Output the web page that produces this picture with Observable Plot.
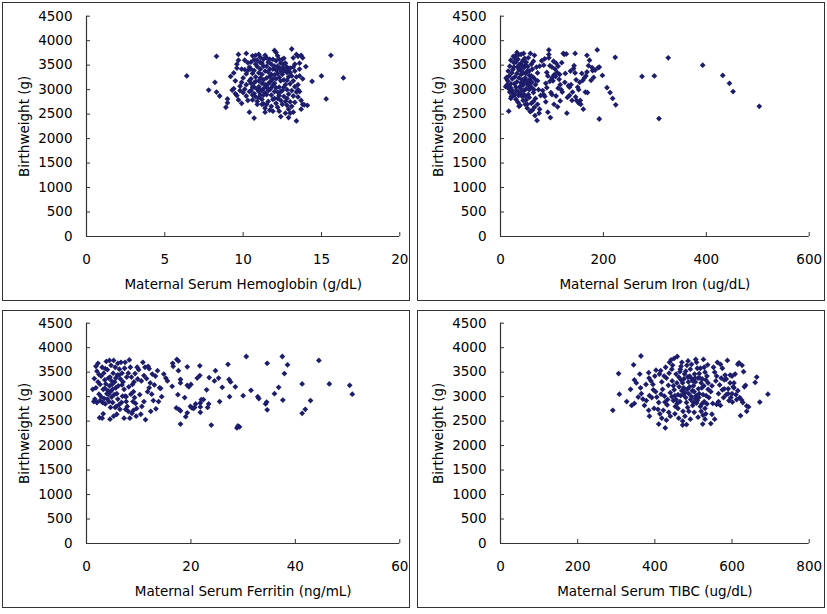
<!DOCTYPE html>
<html><head><meta charset="utf-8">
<script src="https://cdn.jsdelivr.net/npm/d3@7"></script>
<script src="https://cdn.jsdelivr.net/npm/@observablehq/plot@0.6"></script>
<style>
body{margin:0;background:#fff;}
#wrap{position:relative;width:827px;height:614px;background:#fff;overflow:hidden;}
.box{position:absolute;border:1px solid #333;box-sizing:border-box;pointer-events:none;}
.pl{position:absolute;}
</style></head><body><div id="wrap"></div>
<script>
const yTicks = [0,500,1000,1500,2000,2500,3000,3500,4000,4500];
const hbTicks = [0,5,10,15,20];
const ironTicks = [0,200,400,600];
const ferritinTicks = [0,20,40,60];
const tibcTicks = [0,200,400,600,800];
const yLabel = "Birthweight (g)";
const hbLabel = "Maternal Serum Hemoglobin (g/dL)";
const ironLabel = "Maternal Serum Iron (ug/dL)";
const ferritinLabel = "Maternal Serum Ferritin (ng/mL)";
const tibcLabel = "Maternal Serum TIBC (ug/dL)";

// [hemoglobin g/dL, birthweight g]
const hemoglobin = [
[6.4,3280],[7.8,2990],[8.2,3150],[8.3,3680],[8.3,2950],[8.5,2870],[8.9,2640],[9.0,2730],[9.0,2810],[14.4,3170],[15.0,3280],[15.3,2810],[15.6,3700],[16.4,3240],[14.1,2680],[14.0,3470],[13.4,2360],[10.7,2420],[10.4,2540],
[9.2,3270],[9.4,3340],[9.6,3520],[9.7,3600],[9.7,3720],[9.5,3180],[9.3,2990],[9.4,3020],[9.6,2880],[9.7,2790],[9.9,2720],[9.5,2920],[9.8,3070],[9.9,3150],[9.9,3420],[9.6,3440],[9.8,2980],
[10.1,3410],[10.2,3740],[10.0,3240],[10.3,3390],[10.1,3010],[10.2,2870],[10.4,3180],[10.3,3550],[10.0,2940],[10.4,3460],[10.2,3100],[10.3,2780],[10.1,3600],[10.4,2960],[10.2,3320],
[10.5,3420],[10.6,3690],[10.7,3610],[10.8,3520],[10.5,3220],[10.6,3050],[10.7,2920],[10.8,2850],[10.5,2980],[10.6,3330],[10.9,3470],[10.7,3140],[10.8,3260],[10.9,3010],[10.5,3130],[10.6,2790],[10.9,2760],[10.7,3390],[10.8,3700],[10.9,3600],[10.6,2890],[10.7,3050],[10.5,3560],[10.8,3170],[10.9,2700],
[11.0,3720],[11.1,3660],[11.2,3540],[11.3,3480],[11.0,3340],[11.1,3240],[11.2,3130],[11.3,3020],[11.4,2930],[11.0,3060],[11.1,2890],[11.2,2800],[11.3,2710],[11.4,2620],[11.0,2960],[11.1,3420],[11.2,3310],[11.3,3200],[11.4,3380],[11.0,3180],[11.2,2980],[11.4,3100],[11.3,3620],[11.1,3550],[11.4,3700],[11.2,2700],[11.0,2840],[11.3,2890],[11.4,2540],[11.1,3000],
[11.5,3650],[11.6,3560],[11.7,3420],[11.8,3310],[11.9,3220],[11.5,3240],[11.6,3120],[11.7,3000],[11.8,2890],[11.9,2800],[11.5,2900],[11.6,2760],[11.7,2580],[11.8,2660],[11.9,3090],[11.5,3480],[11.6,3360],[11.7,3270],[11.8,3520],[11.9,3420],[11.5,3050],[11.7,3150],[11.9,2560],[11.6,2980],[11.8,3190],[11.7,3620],[11.9,3620],[11.5,2700],[11.8,3040],
[12.0,3800],[12.1,3760],[12.2,3690],[12.3,3620],[12.4,3540],[12.0,3480],[12.1,3400],[12.2,3330],[12.3,3250],[12.4,3180],[12.0,3130],[12.1,3040],[12.2,2950],[12.3,2880],[12.4,2780],[12.0,2820],[12.1,2720],[12.2,2640],[12.3,2560],[12.4,2450],[12.0,3300],[12.2,3480],[12.4,3380],[12.1,3220],[12.3,3050],[12.0,2960],[12.2,2820],[12.4,2960],[12.1,3590],[12.3,3440],
[12.5,3620],[12.6,3520],[12.7,3430],[12.8,3350],[12.9,3260],[12.5,3310],[12.6,3200],[12.7,3100],[12.8,3000],[12.9,2910],[12.5,2980],[12.6,2860],[12.7,2760],[12.8,2680],[12.9,2600],[12.5,3450],[12.6,3380],[12.7,3540],[12.8,3460],[12.9,3400],[12.6,3640],[12.8,3190],[12.5,2700],[12.7,2520],[12.9,2430],[12.6,3050],[12.8,2820],
[13.0,3350],[13.1,3830],[13.2,3650],[13.3,3520],[13.0,3440],[13.1,3280],[13.2,3180],[13.3,3060],[13.0,3120],[13.1,2980],[13.2,2870],[13.3,2740],[13.0,2750],[13.1,2660],[13.2,2540],[13.4,3260],[13.4,2950],[13.0,2520],[13.3,3380],[13.2,3460],[13.4,3720],
[13.5,3680],[13.6,3540],[13.7,3700],[13.8,3650],[13.5,3100],[13.6,2960],[13.7,2780],[13.5,2850],[13.6,3280],[13.8,2700],[13.9,2690],[13.7,2600],[13.5,3000],[13.6,3420],[13.8,3220]
];

// [iron ug/dL, birthweight g]
const iron = [
[12,3250],[14,3180],[10,3060],[16,3020],[18,2950],[20,3120],[22,3340],[24,3410],[26,3550],[28,3640],[30,3700],[32,3760],[34,3620],[36,3500],[38,3420],[40,3310],[42,3200],[44,3090],[46,2980],[48,2870],[50,2790],[52,2700],[54,2900],[56,3000],[58,3150],[60,3280],[62,3420],[64,3580],[66,3700],[25,3680],[20,3600],[18,3480],[15,3380],[22,3000],[26,2880],[30,2800],[34,2740],[38,2680],[42,2860],[46,3450],[50,3560],[54,3650],[58,3740],[45,3740],[40,3720],[35,3710],[28,3260],[32,3330],[36,3240],[40,3140],[44,3340],[48,3240],[52,3120],[56,3380],[60,3050],[64,2940],[68,2820],[72,2700],[76,2600],[30,3050],[34,2960],[38,3060],[42,2990],[46,3150],[50,3020],[24,2940],[28,2900],[32,3160],[36,3400],[40,3540],[44,3600],[48,3500],[52,3380],[56,3290],[60,3520],[64,3250],[68,3100],[72,3340],[76,3480],[80,3590],[70,3460],[74,3000],[78,2880],[66,2640],[62,2580],[58,2560],[20,2820],[16,2560],[36,2660],[58,2550],[71,2370],[75,2520],[67,2470],[26,3460],[30,3560],[44,2780],[48,2700],[52,2620],[56,2840],[60,2720],[64,2760],[68,3200],[72,3180],[33,3460],[37,3050],[41,3380],[45,2900],[49,3330],[53,3470],[57,3210],[61,3150],[65,3000],[23,3220],[27,3120],[31,2980],[35,2880],[39,2920],[43,3480],[47,3640],[51,3180],[55,3080],[11,3230],[13,3100],[17,3280],[19,3050],[21,2860],
[82,2980],[84,2900],[86,2860],[88,3130],[90,3040],[92,2540],[94,3810],[94,3720],[94,3650],[96,3490],[97,2430],[98,2940],[100,3240],[102,3180],[104,3300],[106,3420],[108,3540],[110,3350],[112,3480],[114,3210],[116,3100],[118,3000],[120,2950],[122,3740],[124,3720],[126,3330],[128,3730],[129,2520],[130,2840],[132,3080],[134,3050],[134,2880],[137,3100],[140,2950],[142,3430],[143,3490],[145,3340],[145,3740],[147,3200],[148,2780],[150,3050],[151,2740],[153,2720],[154,3150],[155,2780],[156,2700],[158,3330],[160,3190],[161,2600],[163,3240],[165,2950],[166,3280],[168,3700],[168,3360],[169,2940],[171,3490],[173,3600],[176,3190],[178,3450],[179,3390],[181,3250],[184,3400],[188,3810],[190,3450],[192,3460],[192,2400],[198,3290],[86,3630],[90,3350],[100,2900],[104,2700],[108,2870],[112,3030],[116,2770],[103,3580],[107,3270],[111,2650],[115,3310],[119,3550],[96,3170],[92,3280],[88,2750],[84,3500],[100,3460],[125,3150],[136,3380],[139,2780],[146,2850],[152,3000],
[207,3040],[213,2940],[218,2820],[224,2690],[223,3660],[275,3270],[299,3280],[308,2410],[326,3650],[393,3500],[432,3290],[445,3130],[452,2960],[503,2660]
];

// [ferritin ng/mL, birthweight g]
const ferritin = [
[1.5,3370],[1.8,3180],[2.0,3520],[2.2,3680],[2.4,3050],[1.6,2950],[2.0,2880],[2.6,3250],[2.8,3420],[3.0,3600],[3.2,3150],[3.4,2960],[3.6,2850],[3.0,2560],[3.8,3720],[4.0,3550],[4.2,3380],[4.4,3220],[4.6,3100],[4.8,2990],[5.0,2880],[3.5,3340],[3.9,3060],[4.3,2900],[4.7,3640],[5.1,3480],[5.4,3300],[5.6,3180],[5.8,3060],[6.0,2950],[6.2,2830],[6.4,2740],[5.2,3740],[5.5,3600],[5.9,3440],[6.3,3560],[6.6,3700],[6.8,3480],[7.0,3300],[7.2,3150],[7.4,3010],[7.6,2900],[7.8,2800],[8.0,2700],[8.2,3750],[8.4,3600],[8.6,3400],[8.8,3250],[9.0,3100],[9.2,2980],[9.4,2860],[9.6,2760],[9.8,3360],[10.0,3550],[2.4,3450],[2.8,3000],[3.3,3480],[3.7,3260],[4.1,3120],[4.5,3400],[4.9,3250],[5.3,3040],[5.7,2800],[6.1,3220],[6.5,3360],[6.9,3010],[7.3,3580],[7.7,3400],[8.1,3200],[8.5,3050],[8.9,2900],[9.3,3470],[9.7,3600],[1.2,3150],[1.4,2900],[2.2,3300],[2.6,2920],[3.1,2880],[4.0,2950],[4.6,2780],[5.5,2780],[6.7,2880],[7.5,2740],[8.3,2560],[3.5,3170],[4.2,3050],[4.8,3320],[5.0,3150],[5.6,3380],[6.2,3440],[6.8,3240],[7.6,3000],[8.7,2660],[9.5,2600],[1.8,3620],[6.0,3680],[7.4,3700],[8.0,3480],[9.1,3300],[2.5,2570],[3.2,2650],[4.5,2540],[5.2,2600],[7.2,2560],[9.0,2720],[3.6,3570],[4.4,3740],[5.8,2640],
[10.2,3040],[10.5,3320],[10.8,3700],[11.0,3430],[11.3,2530],[11.5,3370],[11.8,3620],[12.0,3570],[12.2,3280],[12.5,3050],[12.8,2920],[13.0,3240],[13.3,2750],[13.6,3530],[14.0,3180],[14.4,3000],[14.8,3460],[15.2,3380],[11.0,2900],[11.7,3100],[12.3,2700],[12.6,3460],[13.8,2900],[10.6,2800],[11.2,3600],[12.0,3180],[13.2,3420],[14.2,3170],[15.5,3320],[10.4,2640],
[16.4,3210],[16.5,3680],[16.6,3620],[17.2,2770],[17.3,3760],[17.5,3040],[17.6,3730],[17.6,3530],[17.7,2740],[18.0,2710],[18.0,3350],[18.0,3280],[18.0,2440],[18.8,2980],[19.0,2590],[19.3,2670],[19.3,3610],[19.3,3230],[19.6,3200],[20.0,3250],[19.9,2800],[20.2,2770],[20.5,2760],[20.7,2780],[20.9,2850],[21.2,3380],[21.7,3630],[21.7,3430],[21.8,2680],[21.8,2870],[21.8,2790],[22.0,2940],[22.4,2940],[23.0,3140],[23.2,2780],[23.4,2850],[23.5,3390],[23.9,2420],[24.5,3320],[24.7,3530],[25.3,3380],[25.5,2900],[26.0,3190],[27.1,3660],[27.3,3350],[27.6,3300],[27.4,3000],[28.5,3200],[28.8,2360],[29.0,2400],[29.3,2380],[30.0,3020],[30.6,3820],[31.5,3130],[32.8,3000],[33.0,2960],[34.3,2850],[34.5,2890],[34.6,2730],[34.6,3680],[36.0,3060],[36.8,3190],[37.5,3820],[37.6,2930],[37.9,3470],[38.5,3650],[41.3,3260],[41.3,2660],[41.9,2740],[42.9,2920],[44.5,3740],[46.5,3260],[50.4,3230],[50.9,3050]
];

// [TIBC ug/dL, birthweight g]
const tibc = [
[291,2720],[306,3470],[308,3050],[327,2900],[337,3150],[340,2820],[345,3650],[347,3340],[347,2860],[352,3280],[357,2990],[361,3460],[363,3180],[364,3830],[365,3060],[369,2950],[373,2820],[377,3250],[378,2920],[384,3490],[384,2720],[386,2600],[410,2440],[427,2360],[472,2420],[524,2440],[530,2540],
[385,3380],[390,3320],[395,3250],[400,3420],[402,3100],[405,2990],[408,2740],[410,2880],[412,3460],[415,3530],[418,3300],[420,3150],[422,2720],[425,3010],[428,3600],[430,3380],[432,2830],[435,3230],[438,3700],[440,3080],[392,2980],[398,2760],[403,3540],[413,2650],[418,2560],[424,3420],[433,2940],[437,3480],[396,3140],[416,3050],[426,2890],[436,2680],[386,3020],[442,3750],[444,3560],[440,2600],[430,2520],
[445,3320],[448,3220],[450,3140],[452,3020],[455,2940],[458,2860],[460,2760],[462,3400],[465,3510],[468,3620],[470,3700],[472,3280],[475,3180],[478,3080],[480,2980],[482,2880],[485,2780],[488,2700],[490,3420],[492,3560],[495,3660],[498,3320],[500,3220],[502,3100],[505,2960],[508,2870],[510,2920],[512,3380],[515,3470],[518,3580],[520,3280],[522,3180],[525,3040],[528,2900],[530,2760],[532,3340],[535,3420],[538,3150],[540,2980],[446,3640],[450,3780],[455,3460],[460,3040],[465,2900],[470,3120],[475,3360],[480,3520],[485,3400],[490,3200],[495,3000],[500,2880],[505,3300],[510,3580],[515,3060],[520,2700],[525,2620],[530,3500],[535,2850],[458,3820],[463,3200],[468,3340],[473,2700],[478,2600],[483,3640],[488,3060],[493,2940],[498,2820],[503,3460],[508,3700],[513,3160],[518,2800],[523,3360],[528,3600],[533,3020],[538,3280],[448,2920],[453,2800],[457,3280],[467,3020],[477,3460],[487,3300],[497,3120],[507,3020],[517,3380],[527,3220],[537,3650],[452,2650],[462,2560],[472,2500],[482,2430],[492,2540],[502,2680],[512,2580],[522,2850],[532,2650],[444,3000],[466,3560],[486,3730],[506,3760],[526,3760],[494,3380],[474,3040],[484,3150],[504,3380],[514,2980],
[545,3100],[548,3220],[550,2860],[552,3600],[555,3500],[558,3320],[560,2840],[562,3700],[565,3060],[568,3240],[570,3660],[572,3380],[575,3140],[578,2980],[580,3340],[582,3440],[585,3040],[588,3740],[590,3160],[592,2920],[595,3280],[597,2980],[600,3060],[601,2890],[603,3200],[605,3180],[608,3460],[612,2940],[615,3120],[618,3690],[620,2980],[622,2610],[626,3640],[628,2880],[630,3510],[632,3200],[635,3230],[638,2810],[638,2700],[643,2790],[548,2640],[555,2540],[545,2450],[565,2900],[575,3580],[585,3360],[595,3440],[610,3040],[625,2930],[615,3660],[600,3420],[560,3420],[570,2820],[590,3060],[580,3160],[605,3280],
[660,3290],[664,3400],[672,2890],[693,3050]
];

const navy = "#1d1d6b";
const font = "DejaVu Sans";

const panels = [
  {data: hemoglobin, ticks: hbTicks, label: hbLabel, box: [2,2,408,299], m: [13.7,10.7,65,84]},
  {data: iron, ticks: ironTicks, label: ironLabel, box: [417,2,408,299], m: [13.7,16.3,65,83]},
  {data: ferritin, ticks: ferritinTicks, label: ferritinLabel, box: [2,310,408,298], m: [12.7,10.7,65,84]},
  {data: tibc, ticks: tibcTicks, label: tibcLabel, box: [417,310,408,298], m: [12.7,16.3,65,83]}
];

const wrap = document.getElementById("wrap");
for (const p of panels) {
  const [bx, by, bw, bh] = p.box;
  const [mt, mr, mb, ml] = p.m;
  const svg = Plot.plot({
    width: bw, height: bh,
    marginTop: mt, marginRight: mr, marginBottom: mb, marginLeft: ml,
    style: {fontFamily: font, fontSize: "13.5px", color: "#000", background: "transparent", overflow: "visible"},
    x: {domain: [0, p.ticks[p.ticks.length - 1]]},
    y: {domain: [0, yTicks[yTicks.length - 1]]},
    marks: [
      Plot.axisY({ticks: yTicks, tickSize: 0, tickPadding: 14, tickFormat: d => String(d), label: null, fill: "#000"}),
      Plot.axisY({ticks: yTicks, tickSize: 4, dx: 4, text: null, label: null, stroke: "#333"}),
      Plot.axisX({ticks: p.ticks, tickSize: 0, tickPadding: 18, tickFormat: d => String(d), label: null, fill: "#000"}),
      Plot.axisX({ticks: p.ticks, tickSize: 4, dy: -4, text: null, label: null, stroke: "#333"}),
      Plot.ruleY([0], {stroke: "#333", strokeWidth: 1.2}),
      Plot.ruleX([0], {stroke: "#333", strokeWidth: 1.2}),
      Plot.dot(p.data, {x: d => d[0], y: d => d[1], symbol: "diamond2", r: 2.6, fill: navy, stroke: "none"}),
      Plot.text([p.label], {text: d => d, frameAnchor: "bottom", dy: 48.5, textAnchor: "middle", lineAnchor: "middle", fontSize: 13.5, fill: "#000"}),
      Plot.text([yLabel], {text: d => d, frameAnchor: "left", dx: -62, rotate: -90, textAnchor: "middle", lineAnchor: "middle", fontSize: 13.5, fill: "#000"})
    ]
  });
  svg.classList.add("pl");
  svg.style.left = bx + "px";
  svg.style.top = by + "px";
  wrap.appendChild(svg);
  const box = document.createElement("div");
  box.className = "box";
  box.style.left = bx + "px"; box.style.top = by + "px";
  box.style.width = bw + "px"; box.style.height = bh + "px";
  wrap.appendChild(box);
}
</script></body></html>
